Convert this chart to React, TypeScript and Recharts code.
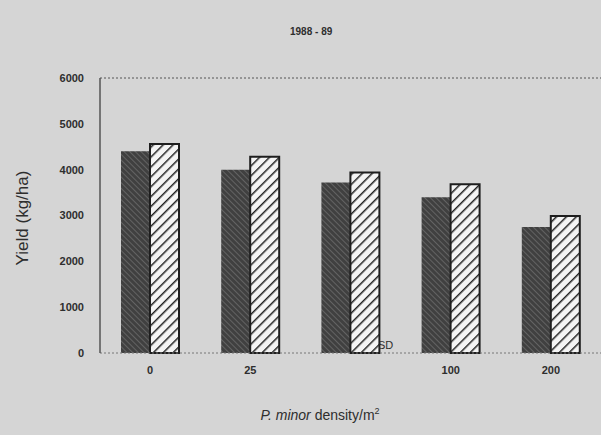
import React from "react";
import {
  BarChart,
  Bar,
  XAxis,
  YAxis,
  ReferenceLine,
} from "recharts";

const densities = ["0", "25", "50", "100", "200"];
const tickLabels = ["0", "25", "", "100", "200"];
const yieldDark = [4400, 4000, 3720, 3400, 2750];
const yieldHatched = [4560, 4280, 3940, 3680, 2990];
const yTicks = [0, 1000, 2000, 3000, 4000, 5000, 6000];

const data = densities.map((d, i) => ({
  density: d,
  dark: yieldDark[i],
  hatched: yieldHatched[i],
}));

const ink = "#2e2e2e";
const font = "'Liberation Sans', Arial, sans-serif";

export default function App() {
  return (
    <div
      style={{
        position: "fixed",
        left: 0,
        top: 0,
        width: 601,
        height: 435,
        background: "#d5d5d5",
        fontFamily: font,
      }}
    >
      <div
        style={{
          position: "absolute",
          left: 290,
          top: 26,
          fontSize: 10,
          fontWeight: "bold",
          color: ink,
        }}
      >
        1988 - 89
      </div>
      <div
        style={{
          position: "absolute",
          left: 378,
          top: 339,
          fontSize: 11,
          color: ink,
        }}
      >
        SD
      </div>
      <BarChart
        width={601}
        height={435}
        data={data}
        margin={{ top: 78, right: 0, bottom: 0, left: 0 }}
        barGap={0}
        barSize={29}
      >
        <defs>
          <pattern
            id="darkHatch"
            patternUnits="userSpaceOnUse"
            width="4"
            height="4"
            patternTransform="rotate(-45)"
          >
            <rect width="4" height="4" fill="#404040" />
            <line x1="0" y1="0" x2="0" y2="4" stroke="#7a7a7a" strokeWidth="1.2" />
          </pattern>
          <pattern
            id="whiteHatch"
            patternUnits="userSpaceOnUse"
            width="7"
            height="7"
            patternTransform="rotate(45)"
          >
            <rect width="7" height="7" fill="#f4f4f4" />
            <line x1="0" y1="0" x2="0" y2="7" stroke="#222" strokeWidth="3" />
          </pattern>
        </defs>
        <XAxis
          dataKey="density"
          tickFormatter={(_v: string, i: number) => tickLabels[i]}
          axisLine={{ stroke: "#777", strokeDasharray: "2 2" }}
          tickLine={false}
          tick={{ fontSize: 11, fill: ink, fontWeight: "bold" }}
          tickMargin={7}
          height={82}
          label={{
            content: () => (
              <text
                x={320}
                y={420}
                textAnchor="middle"
                fontSize={14}
                fill={ink}
                fontFamily={font}
              >
                <tspan fontStyle="italic">P. minor</tspan>
                <tspan> density/m</tspan>
                <tspan fontSize={9} dy={-6}>2</tspan>
              </text>
            ),
          }}
        />
        <YAxis
          domain={[0, 6000]}
          ticks={yTicks}
          interval={0}
          width={100}
          axisLine={{ stroke: "#555", strokeWidth: 1.5 }}
          tickLine={false}
          tickMargin={10}
          tick={{ fontSize: 11, fill: ink, fontWeight: "bold" }}
          label={{
            content: () => (
              <text
                x={28}
                y={218}
                textAnchor="middle"
                fontSize={17}
                fill={ink}
                fontFamily={font}
                transform="rotate(-90 28 218)"
              >
                Yield (kg/ha)
              </text>
            ),
          }}
        />
        <ReferenceLine y={6000} stroke="#555" strokeDasharray="2 2" />
        <Bar
          dataKey="dark"
          fill="url(#darkHatch)"
          isAnimationActive={false}
        />
        <Bar
          dataKey="hatched"
          fill="url(#whiteHatch)"
          stroke="#1e1e1e"
          strokeWidth={2}
          isAnimationActive={false}
        />
      </BarChart>
    </div>
  );
}
